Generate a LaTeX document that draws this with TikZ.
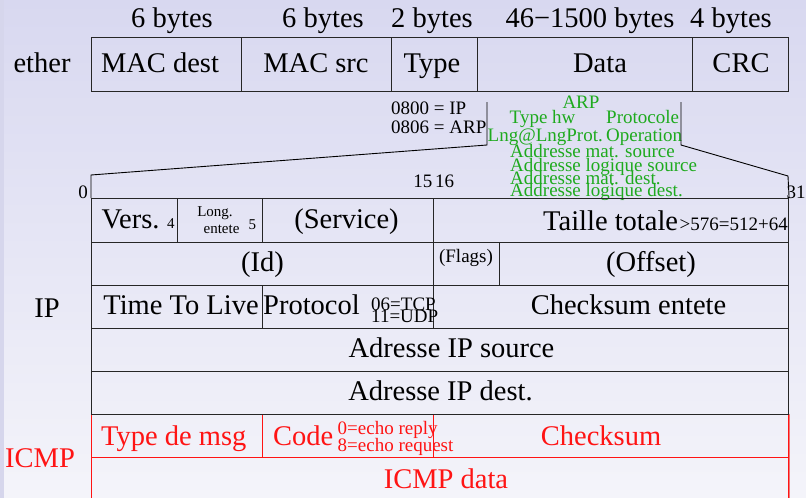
\documentclass[tikz,border=0pt]{standalone}
\usepackage{fontspec}
\setmainfont{Liberation Serif}
\definecolor{bgtop}{RGB}{216,216,240}
\definecolor{bgbot}{RGB}{244,244,250}
\definecolor{strip}{RGB}{214,214,236}
\definecolor{arpgreen}{RGB}{30,170,30}
\definecolor{icmpred}{RGB}{255,20,20}
\definecolor{icmplight}{RGB}{240,120,120}
\begin{document}
\begin{tikzpicture}[x=1pt,y=-1pt,
  cell/.style={draw=black!85, line width=1.1pt, inner sep=0pt, anchor=north west},
  rcell/.style={draw=icmpred, line width=1.1pt, inner sep=0pt, anchor=north west},
  big/.style={font=\fontsize{28.5}{30}\selectfont, inner sep=0pt, anchor=base},
  mid/.style={font=\fontsize{19}{19}\selectfont, inner sep=0pt, anchor=base west},
  tiny/.style={font=\fontsize{15}{15}\selectfont, inner sep=0pt, anchor=base},
  grn/.style={mid, text=arpgreen},
  brk/.style={draw=black, line width=0.9pt}]
\useasboundingbox (0,0) rectangle (806,498);
\clip (0,0) rectangle (806,498);
\shade[top color=bgtop, bottom color=bgbot] (0,0) rectangle (806,498);
\fill[strip] (0,0) rectangle (3.5,498);

% ---- Ethernet frame ----
\node[cell, minimum width=150pt, minimum height=54pt] (macd) at (91,37) {};
\node[cell, minimum width=150pt, minimum height=54pt] (macs) at (241,37) {};
\node[cell, minimum width=86pt,  minimum height=54pt] (etype) at (391,37) {};
\node[cell, minimum width=215pt, minimum height=54pt] (edata) at (477,37) {};
\node[cell, minimum width=96pt,  minimum height=54pt] (ecrc) at (692,37) {};

\node[big] (by1) at (172,27) {6 bytes};
\node[big] (by2) at (323,27) {6 bytes};
\node[big] (by3) at (432,27) {2 bytes};
\node[big] (by4) at (590,27) {46−1500 bytes};
\node[big] (by5) at (731,27) {4 bytes};

\node[big] (ether) at (42,72) {ether};
\node[big] (tmacd) at (160,72) {MAC dest};
\node[big] (tmacs) at (316,72) {MAC src};
\node[big] (ttype) at (432,72) {Type};
\node[big] (tdata) at (600,72) {Data};
\node[big] (tcrc) at (741,72) {CRC};

% ---- type codes ----
\node[mid] (c800) at (391,114) {0800 = IP};
\node[mid] (c806) at (391,133) {0806 = ARP};

% ---- ARP (green) ----
\node[grn, anchor=base] (arp) at (581,108) {ARP};
\node[grn] (thw) at (509.5,123.5) {Type hw};
\node[grn] (prot) at (606,123.5) {Protocole};
\node[grn] (lng) at (487.5,141.5) {Lng@LngProt.};
\node[grn] (oper) at (606,141.5) {Operation};
\node[grn] (ams) at (510,157.5) {Addresse mat. source};
\node[grn] (als) at (510,171) {Addresse logique source};
\node[grn] (amd) at (510,184) {Addresse mat. dest.};
\node[grn] (ald) at (510,196) {Addresse logique dest.};

% ---- brackets ----
\coordinate (bla) at (487,102);
\coordinate (blb) at (487,145);
\coordinate (blc) at (91,175);
\coordinate (bra) at (681,102);
\coordinate (brb) at (681,145);
\coordinate (brc) at (788,176);

% ---- bit numbers ----
\node[mid, anchor=base east] (b0) at (88,198) {0};
\node[mid, anchor=base east] (b15) at (432.5,187) {15};
\node[mid] (b16) at (435,187) {16};
\node[mid] (b31) at (786.5,198) {31};

% ---- ICMP (red) cells, drawn first ----
\node[rcell, minimum width=171pt, minimum height=43pt] (itype) at (91,413.5) {};
\node[rcell, minimum width=171pt, minimum height=43pt] (icode) at (262,413.5) {};
\node[rcell, minimum width=355pt, minimum height=43pt] (ick) at (433,413.5) {};
\node[rcell, minimum width=697pt, minimum height=60pt] (idata) at (91,456.5) {};
\draw[draw=icmplight, line width=1.1pt] (ick.north east) -- (idata.south east);

% ---- IP header ----
\node[cell, minimum width=86pt,  minimum height=43.5pt] (vers) at (91,198) {};
\node[cell, minimum width=85pt,  minimum height=43.5pt] (long) at (177,198) {};
\node[cell, minimum width=171pt, minimum height=43.5pt] (serv) at (262,198) {};
\node[cell, minimum width=355pt, minimum height=43.5pt] (tail) at (433,198) {};
\node[cell, minimum width=342pt, minimum height=43pt] (id) at (91,241.5) {};
\node[cell, minimum width=66pt,  minimum height=43pt] (flags) at (433,241.5) {};
\node[cell, minimum width=289pt, minimum height=43pt] (offs) at (499,241.5) {};
\node[cell, minimum width=171pt, minimum height=43pt] (ttl) at (91,284.5) {};
\node[cell, minimum width=171pt, minimum height=43pt] (proto) at (262,284.5) {};
\node[cell, minimum width=355pt, minimum height=43pt] (cks) at (433,284.5) {};
\node[cell, minimum width=697pt, minimum height=43pt] (src) at (91,327.5) {};
\node[cell, minimum width=697pt, minimum height=43pt] (dst) at (91,370.5) {};

\draw[brk] (bla) -- (blb) -- (blc) -- (vers.north west);
\draw[brk] (bra) -- (brb) -- (brc) -- (tail.north east);

% ---- IP texts ----
\node[big, anchor=base west] (tvers) at (101.5,228) {Vers.};
\node[tiny, anchor=base west] (t4) at (167,228) {4};
\node[tiny] (tlong) at (215,216) {Long.};
\node[tiny] (tent) at (221.5,233) {entete};
\node[tiny, anchor=base west] (t5) at (248.5,229) {5};
\node[big] (tserv) at (346.5,228) {(Service)};
\node[big, anchor=base west] (ttail) at (543,230) {Taille totale};
\node[mid, anchor=base east] (t576) at (788,230) {>576=512+64};
\node[big] (tid) at (262.5,271) {(Id)};
\node[mid, anchor=base] (tflags) at (466,262.5) {(Flags)};
\node[big] (toffs) at (651,271) {(Offset)};
\node[big] (tttl) at (181,314.5) {Time To Live};
\node[big, anchor=base west] (tproto) at (263,314.5) {Protocol};
\node[mid] (ttcp) at (371,310) {06=TCP};
\node[mid] (tudp) at (371,322) {11=UDP};
\node[big] (tcks) at (628.5,314.5) {Checksum entete};
\node[big] (tsrc) at (451.5,357.5) {Adresse IP source};
\node[big] (tdst) at (440.5,400.5) {Adresse IP dest.};
\node[big] (ip) at (47,317) {IP};

% ---- ICMP texts ----
\node[big, anchor=base west, text=icmpred] (ttype2) at (101,445) {Type de msg};
\node[big, anchor=base west, text=icmpred] (tcode) at (273,445) {Code};
\node[mid, text=icmpred] (trep) at (337.5,434.5) {0=echo reply};
\node[mid, text=icmpred] (treq) at (337.5,451) {8=echo request};
\node[big, text=icmpred] (tck2) at (601,445) {Checksum};
\node[big, text=icmpred] (tidata) at (446,488) {ICMP data};
\node[big, anchor=base west, text=icmpred] (icmp) at (5,467) {ICMP};
\end{tikzpicture}
\end{document}
